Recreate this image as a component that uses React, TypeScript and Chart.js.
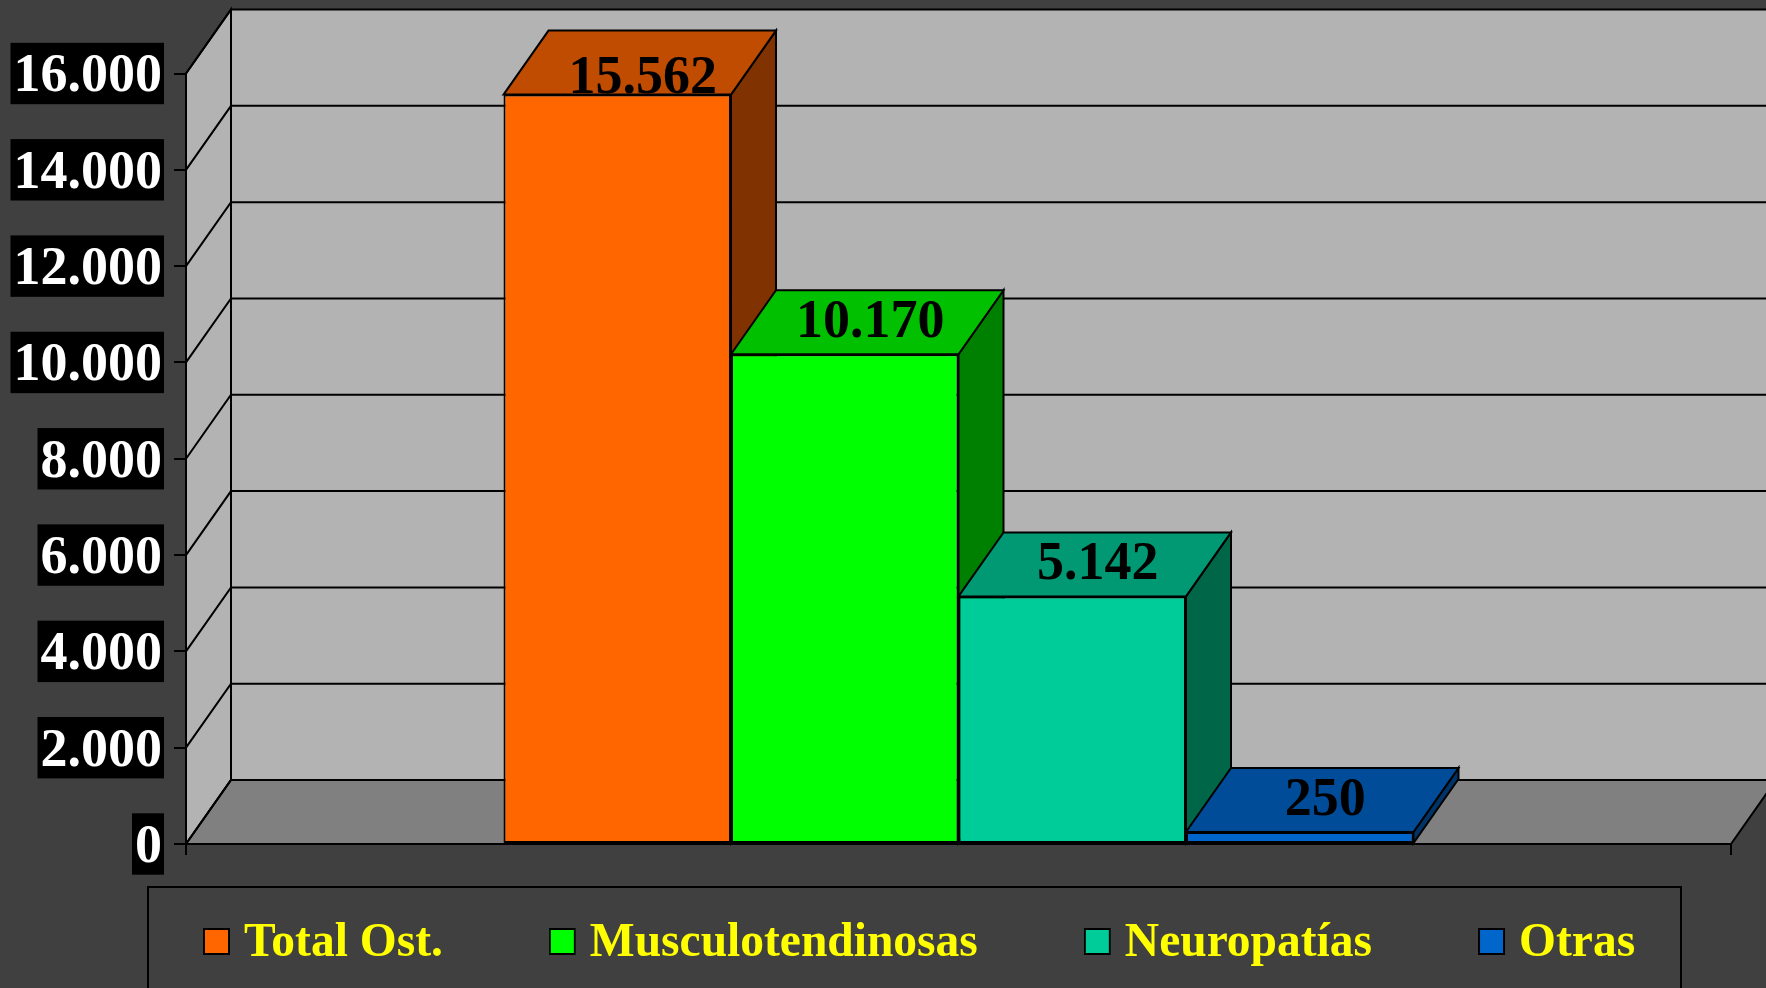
import { useEffect, useRef } from 'react';
import { Chart, registerables } from 'chart.js';

Chart.register(...registerables);

// ---- data ----
const categories = [''];
const seriesNames = ['Total Ost.', 'Musculotendinosas', 'Neuropatías', 'Otras'];
const seriesValues = [15562, 10170, 5142, 250];
const frontColors = ['#ff6600', '#00ff00', '#00cc99', '#0066cc'];
const topColors = ['#bf4c00', '#00c000', '#009973', '#004c99'];
const sideColors = ['#803300', '#008000', '#006648', '#003366'];
const yTickValues = [0, 2000, 4000, 6000, 8000, 10000, 12000, 14000, 16000];

// ---- style ----
const FONT = '"Liberation Serif", "Times New Roman", serif';
const DX = 45;
const DY = 64;
const BG = '#404040';
const WALL = '#b3b3b3';
const FLOOR = '#808080';

const fmt = (v: number) => String(Math.round(v)).replace(/\B(?=(\d{3})+(?!\d))/g, '.');

function poly(ctx: CanvasRenderingContext2D, pts: number[][], fill: string) {
  ctx.beginPath();
  ctx.moveTo(pts[0][0], pts[0][1]);
  for (let i = 1; i < pts.length; i++) ctx.lineTo(pts[i][0], pts[i][1]);
  ctx.closePath();
  ctx.fillStyle = fill;
  ctx.fill();
  ctx.stroke();
}

const threeD = {
  id: 'threeD',
  beforeDraw(chart: any) {
    const { ctx, chartArea } = chart;
    const { left, right } = chartArea;
    const y = chart.scales.y;
    const y0 = y.getPixelForValue(y.min);
    const yT = y.getPixelForValue(y.max);
    ctx.save();
    ctx.fillStyle = BG;
    ctx.fillRect(0, 0, chart.width, chart.height);
    ctx.strokeStyle = '#000';
    ctx.lineWidth = 2;
    // back wall
    ctx.fillStyle = WALL;
    ctx.fillRect(left + DX, yT - DY, right - left, y0 - yT);
    // left wall
    poly(ctx, [[left, yT], [left + DX, yT - DY], [left + DX, y0 - DY], [left, y0]], WALL);
    // floor
    poly(ctx, [[left, y0], [left + DX, y0 - DY], [right + DX, y0 - DY], [right, y0]], FLOOR);
    // grid lines on walls
    ctx.beginPath();
    for (const t of y.ticks) {
      const py = y.getPixelForValue(t.value);
      ctx.moveTo(left, py);
      ctx.lineTo(left + DX, py - DY);
      ctx.lineTo(right + DX, py - DY);
    }
    ctx.moveTo(left + DX, yT - DY);
    ctx.lineTo(left + DX, y0 - DY);
    ctx.stroke();
    ctx.restore();
  },
  beforeDatasetsDraw(chart: any) {
    const { ctx, chartArea } = chart;
    const items = chart.getSortedVisibleDatasetMetas().map((meta: any) => ({
      idx: meta.index,
      el: meta.data[0],
    }));
    items.sort((a: any, b: any) => a.el.x - b.el.x);
    ctx.save();
    ctx.strokeStyle = '#000';
    ctx.lineWidth = 2;
    ctx.lineJoin = 'miter';
    const labels: any[] = [];
    for (const { idx, el } of items) {
      const { x, y, base, width } = el.getProps(['x', 'y', 'base', 'width'], true);
      const l = x - width / 2;
      const r = x + width / 2;
      poly(ctx, [[r, y], [r + DX, y - DY], [r + DX, base - DY], [r, base]], sideColors[idx]);
      poly(ctx, [[l, y], [l + DX, y - DY], [r + DX, y - DY], [r, y]], topColors[idx]);
      el.draw(ctx, chartArea);
      labels.push({ x: x + DX / 2 + 3, y: Math.max(y - 17, chartArea.top + 19), text: fmt(seriesValues[idx]) });
    }
    ctx.fillStyle = '#000';
    ctx.font = `bold 54px ${FONT}`;
    ctx.textAlign = 'center';
    ctx.textBaseline = 'alphabetic';
    for (const lb of labels) ctx.fillText(lb.text, lb.x, lb.y);
    ctx.restore();
    return false;
  },
  afterDraw(chart: any) {
    const { ctx } = chart;
    ctx.save();
    ctx.strokeStyle = '#000';
    ctx.lineWidth = 2;
    ctx.strokeRect(148, 887, 1533, 200);
    ctx.font = `bold 47.5px ${FONT}`;
    ctx.textAlign = 'left';
    ctx.textBaseline = 'alphabetic';
    let x = 203;
    chart.data.datasets.forEach((ds: any) => {
      ctx.fillStyle = ds.backgroundColor;
      ctx.fillRect(x, 928, 27, 27);
      ctx.lineWidth = 2;
      ctx.strokeRect(x + 1, 929, 25, 25);
      ctx.fillStyle = '#ffff00';
      ctx.fillText(ds.label, x + 27 + 14, 956);
      x += 27 + 14 + ctx.measureText(ds.label).width + 106;
    });
    ctx.restore();
  },
};

export default function App() {
  const ref = useRef<HTMLCanvasElement>(null);
  useEffect(() => {
    const chart = new Chart(ref.current as HTMLCanvasElement, {
      type: 'bar',
      data: {
        labels: categories,
        datasets: seriesNames.map((label, i) => ({
          label,
          data: [seriesValues[i]],
          backgroundColor: frontColors[i],
          borderColor: '#000',
          borderWidth: 2,
          borderSkipped: false,
          categoryPercentage: 0.589,
          barPercentage: 1,
        })),
      },
      options: {
        responsive: false,
        animation: false,
        events: [],
        layout: { padding: { left: 0, right: 35, top: 73.5, bottom: 133 } },
        plugins: { legend: { display: false }, tooltip: { enabled: false } },
        scales: {
          x: {
            type: 'category',
            ticks: { display: false },
            grid: { offset: true, drawOnChartArea: false, drawTicks: true, tickLength: 11, color: '#000', lineWidth: 2 },
            border: { display: true, color: '#000', width: 2 },
          },
          y: {
            min: yTickValues[0],
            max: yTickValues[yTickValues.length - 1],
            afterBuildTicks: (s: any) => {
              s.ticks = yTickValues.map((v) => ({ value: v }));
            },
            afterFit: (s: any) => {
              s.width = 186;
            },
            ticks: {
              color: '#ffffff',
              font: { family: FONT, size: 54, weight: 'bold', lineHeight: 1.1 },
              padding: 12,
              labelOffset: 4,
              showLabelBackdrop: true,
              backdropColor: '#000000',
              backdropPadding: { top: 5, bottom: -3, left: 3, right: 2 },
              callback: (v: any) => fmt(Number(v)),
            },
            grid: { drawOnChartArea: false, drawTicks: true, tickLength: 12, color: '#000', lineWidth: 2 },
            border: { display: true, color: '#000', width: 2 },
          },
        },
      } as any,
      plugins: [threeD],
    });
    return () => chart.destroy();
  }, []);
  return (
    <div style={{ position: 'fixed', left: 0, top: 0, width: 1766, height: 988, background: BG, overflow: 'hidden' }}>
      <canvas ref={ref} width={1766} height={988} style={{ display: 'block' }} />
    </div>
  );
}
